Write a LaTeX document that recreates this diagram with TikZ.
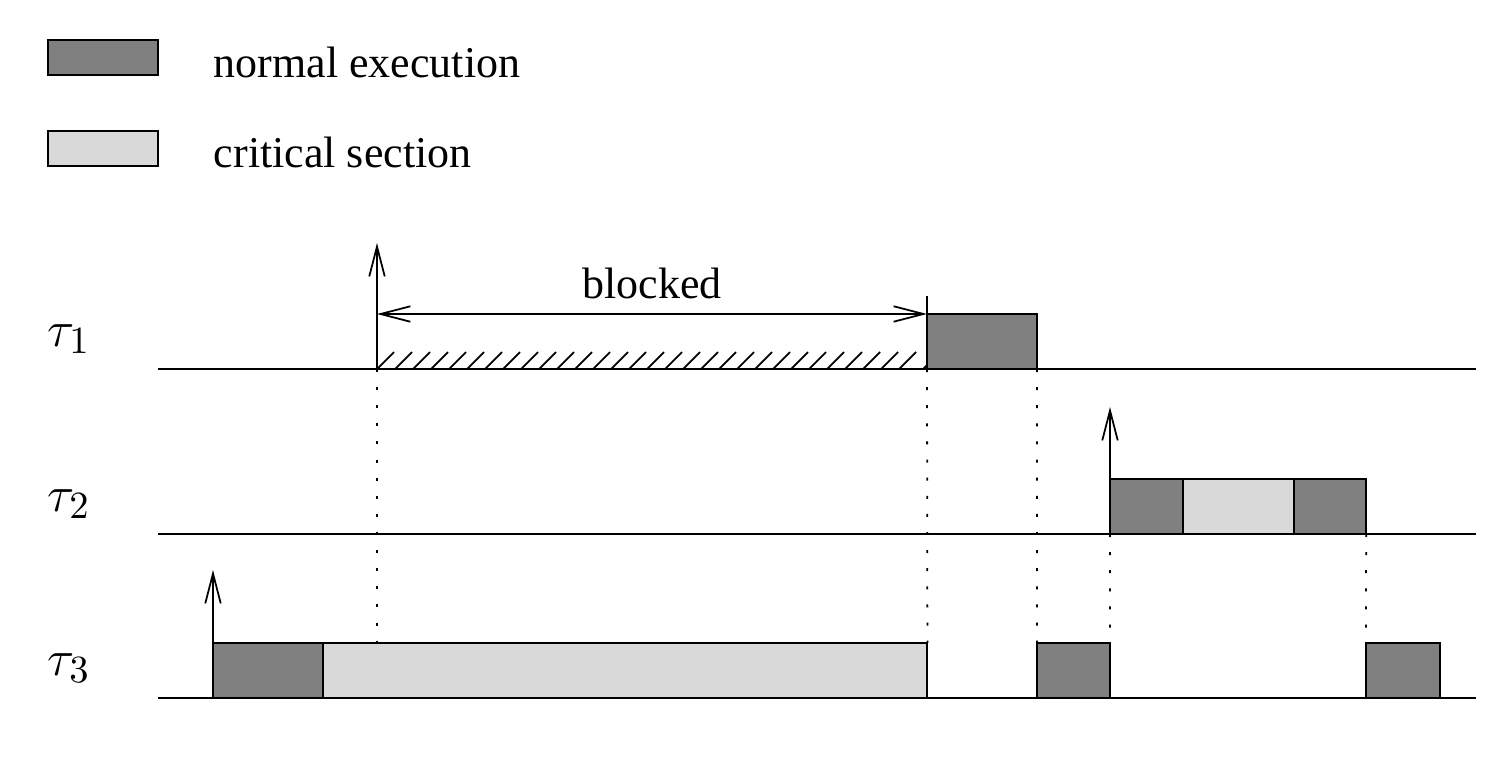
\documentclass[tikz,border=0pt]{standalone}
\usepackage{fontspec}
\setmainfont{Liberation Serif}
\usetikzlibrary{arrows.meta}
\definecolor{execgray}{gray}{0.5}
\definecolor{critgray}{gray}{0.85}

\begin{document}
\begin{tikzpicture}[x=0.01cm, y=-0.01cm, line width=0.5pt,
  font=\fontsize{12.5}{15}\selectfont,
  slot/.style={draw=black, line width=0.55pt, inner sep=0pt, outer sep=0pt,
    minimum height=0.55cm, anchor=south west},
  exec/.style={slot, fill=execgray},
  crit/.style={slot, fill=critgray},
  barb/.tip={Straight Barb[length=8.5pt, width=4.4pt]},
  release/.style={-barb},
  guide/.style={dash pattern=on 0.85pt off 4.3pt},
  tasklabel/.style={inner sep=0pt, font=\fontsize{15}{18}\selectfont},
  hatch/.style={line width=0.5pt}]
  \useasboundingbox (0,0) rectangle (1512,766);
  % legend
  \node[exec, minimum width=1.1cm, minimum height=0.35cm, anchor=north west] (legexec) at (48,40) {};
  \node[crit, minimum width=1.1cm, minimum height=0.35cm, anchor=north west] (legcrit) at (48,131) {};
  \node[anchor=west, inner sep=0pt] (txtexec) at (213,62) {normal execution};
  \node[anchor=west, inner sep=0pt] (txtcrit) at (213,152) {critical section};
  % time lines
  \node[tasklabel] (lab1) at (69,339) {$\tau_1$};
  \node[tasklabel] (lab2) at (69,504) {$\tau_2$};
  \node[tasklabel] (lab3) at (69,668) {$\tau_3$};
  \coordinate (base1w) at (158,369); \coordinate (base1e) at (1476,369);
  \coordinate (base2w) at (158,534); \coordinate (base2e) at (1476,534);
  \coordinate (base3w) at (158,698); \coordinate (base3e) at (1476,698);
  \draw (base1w) -- (base1e);
  \draw (base2w) -- (base2e);
  \draw (base3w) -- (base3e);
  % tau_1
  \node[exec, minimum width=1.1cm] (a1) at (927,369) {};
  \coordinate (rel1) at (377,369); \coordinate (rel1top) at (377,243);
  \coordinate (tick1) at (927,296);
  \draw[release] (rel1) -- (rel1top);
  \draw (a1.south west) -- (tick1);
  \draw[barb-barb] (377,314) -- node[above=4pt, inner sep=0pt] (blk) {blocked} (a1.north west);
  \foreach \x in {377,395,...,905}
    \draw[hatch] (\x,369) -- (\x+17,352);
  \draw[hatch] (923,369) -- (927,365);
  % tau_2
  \node[exec, minimum width=0.73cm] (b1) at (1110,534) {};
  \node[crit, minimum width=1.11cm] (b2) at (b1.south east) {};
  \node[exec, minimum width=0.72cm] (b3) at (b2.south east) {};
  \coordinate (rel2top) at (1110,407);
  \draw[release] (b1.south west) -- (rel2top);
  % tau_3
  \node[exec, minimum width=1.1cm] (c1) at (213,698) {};
  \node[crit, minimum width=6.04cm] (c2) at (c1.south east) {};
  \node[exec, minimum width=0.73cm] (c3) at (1037,698) {};
  \node[exec, minimum width=0.74cm] (c4) at (1366,698) {};
  \coordinate (rel3top) at (213,570);
  \draw[release] (c1.south west) -- (rel3top);
  % guides
  \draw[guide] (rel1) -- (377,643);
  \draw[guide] (a1.south west) -- (c2.north east);
  \draw[guide] (a1.south east) -- (c3.north west);
  \draw[guide] (b1.south west) -- (c3.north east);
  \draw[guide] (b3.south east) -- (c4.north west);
\end{tikzpicture}
\end{document}
